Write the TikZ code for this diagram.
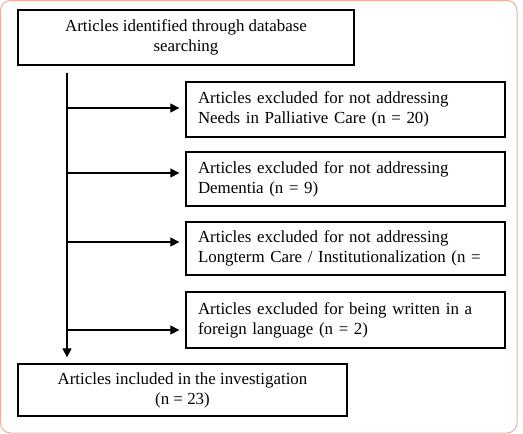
\documentclass[tikz,border=0pt]{standalone}
\usepackage{fontspec}
\setmainfont{Liberation Serif}
\usetikzlibrary{arrows.meta}
\definecolor{frame}{RGB}{236,176,160}
\begin{document}
\begin{tikzpicture}[x=1pt,y=-1pt,
  every node/.style={font=\fontsize{16.9}{20}\selectfont},
  boxc/.style={draw, line width=1.3pt, align=center, inner sep=0pt},
  boxl/.style={draw, line width=1.3pt, align=left, text width=295pt, inner xsep=12pt, inner ysep=0pt, minimum width=319pt},
  arr/.style={line width=1.2pt, -{Triangle[length=9pt,width=9pt]}}]
\useasboundingbox (0,0) rectangle (523,434);
\draw[frame, line width=1pt, rounded corners=10pt] (0.5,0.5) rectangle (517,433);
\node[boxc, minimum width=336pt, minimum height=55pt] (top) at (186,37.5) {Articles identified through database\\searching};
\node[boxl, minimum height=55pt] (b1) at (345.5,109.5) {Articles excluded for not addressing\\Needs in Palliative Care (n = 20)};
\node[boxl, minimum height=54pt] (b2) at (345.5,179) {Articles excluded for not addressing\\Dementia (n = 9)};
\node[boxl, minimum height=53pt] (b3) at (345.5,248.5) {Articles excluded for not addressing\\Longterm Care / Institutionalization (n =};
\node[boxl, minimum height=56pt] (b4) at (345.5,320) {Articles excluded for being written in a\\foreign language (n = 2)};
\node[boxc, minimum width=329pt, minimum height=52pt] (bot) at (182.5,390) {Articles included in the investigation\\(n = 23)};
\coordinate (s) at (67,73);
\coordinate (v1) at (67,108);
\coordinate (v2) at (67,173);
\coordinate (v3) at (67,242);
\coordinate (v4) at (67,330);
\draw[arr, shorten >=6pt] (s) -- (s |- bot.north);
\draw[arr, shorten >=6pt] (v1) -- (v1 -| b1.west);
\draw[arr, shorten >=6pt] (v2) -- (v2 -| b2.west);
\draw[arr, shorten >=6pt] (v3) -- (v3 -| b3.west);
\draw[arr, shorten >=6pt] (v4) -- (v4 -| b4.west);
\end{tikzpicture}
\end{document}
